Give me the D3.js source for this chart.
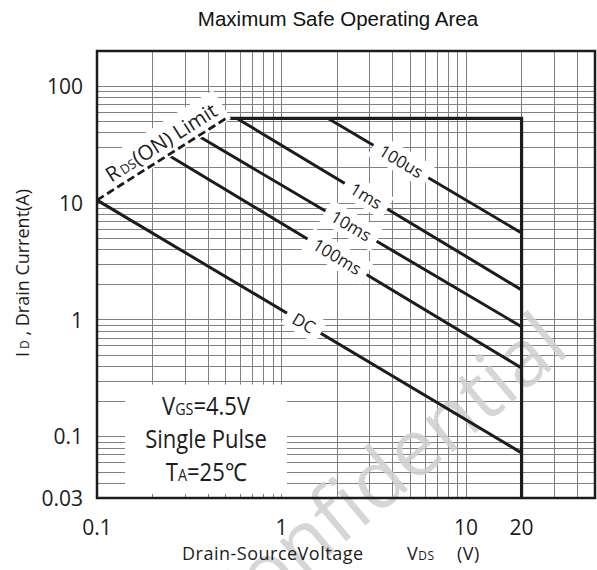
<!DOCTYPE html>
<html>
<head>
<meta charset="utf-8">
<script src="https://cdn.jsdelivr.net/npm/d3@7"></script>
<style>
  body { margin: 0; background: #fff; }
  svg { display: block; font-family: "Open Sans", sans-serif; }
</style>
</head>
<body>
<svg id="chart" width="597" height="570"></svg>
<script>
// tick labels
const xTickLabels = [0.1, 1, 10, 20];
const yTickLabels = [0.03, 0.1, 1, 10, 100];

// SOA boundary (V, A)
const limitLine = [[0.5, 53], [20, 53], [20, 0.03]];
const rdsLine = [[0.1, 10.6], [0.5, 53]];

// pulse curves, start / end points
const pulseNames = ["100us", "1ms", "10ms", "100ms", "DC"];
const pulseStart = [[1.79, 53], [0.574, 53], [0.362, 36.7], [0.243, 25.8], [0.1, 10.6]];
const pulseEnd = [[20, 5.55], [20, 1.81], [20, 0.876], [20, 0.388], [20, 0.073]];
const pulseLabelV = [4.44, 2.87, 2.38, 2.0, 1.32];

const width = 597, height = 570;
const margin = {top: 51, right: 2, bottom: 72, left: 97};

const x = d3.scaleLog().domain([0.1, 50]).range([margin.left, width - margin.right]);
const y = d3.scaleLog().domain([0.03, 200]).range([height - margin.bottom, margin.top]);

const svg = d3.select("#chart");
const ink = "#1c1c1c";

// grid
svg.append("g")
    .attr("stroke", "#808080")
    .attr("shape-rendering", "crispEdges")
    .call(g => g.selectAll(".vx").data(x.ticks()).join("line")
      .attr("x1", d => x(d)).attr("x2", d => x(d))
      .attr("y1", margin.top).attr("y2", height - margin.bottom))
    .call(g => g.selectAll(".hy").data(y.ticks()).join("line")
      .attr("x1", margin.left).attr("x2", width - margin.right)
      .attr("y1", d => y(d)).attr("y2", d => y(d)));

// watermark, runs off the bottom edge like the original
svg.append("text")
    .attr("transform", "translate(572,352) rotate(-40)")
    .attr("text-anchor", "end")
    .attr("font-size", 80)
    .attr("fill", "#d0d0d0")
    .attr("opacity", 0.85)
    .text("Confidential");

// conditions box
const box = svg.append("g");
box.append("rect")
    .attr("x", x(0.142)).attr("y", y(0.28))
    .attr("width", x(1.07) - x(0.142)).attr("height", y(0.0325) - y(0.28))
    .attr("fill", "#fff");
const boxCx = (x(0.142) + x(1.07)) / 2;
const boxLines = [
  [["V", 1], ["GS", 0.65], ["=4.5V", 1]],
  [["Single Pulse", 1]],
  [["T", 1], ["A", 0.65], ["=25℃", 1]]
];
boxLines.forEach((parts, i) => {
  const t = box.append("text")
      .attr("transform", `translate(${boxCx},${y(0.28) + 30.5 + i * 32.7}) scale(0.88,1)`)
      .attr("text-anchor", "middle")
      .attr("font-size", 25)
      .attr("fill", ink);
  parts.forEach(p => t.append("tspan").attr("font-size", 25 * p[1]).text(p[0]));
});

// pulse lines
const line = d3.line().x(d => x(d[0])).y(d => y(d[1]));
pulseNames.forEach((name, i) => {
  svg.append("path")
      .attr("d", line([pulseStart[i], pulseEnd[i]]))
      .attr("fill", "none").attr("stroke", ink).attr("stroke-width", 3);
});

// limit
svg.append("path")
    .attr("d", line(limitLine))
    .attr("fill", "none").attr("stroke", ink).attr("stroke-width", 3.2);

// pulse labels with white knock-out
pulseNames.forEach((name, i) => {
  const [v0, i0] = pulseStart[i], [v1, i1] = pulseEnd[i];
  const slope = Math.log(i1 / i0) / Math.log(v1 / v0);
  const lv = pulseLabelV[i];
  const li = i0 * Math.pow(lv / v0, slope);
  const ang = Math.atan2(y(i1) - y(i0), x(v1) - x(v0)) * 180 / Math.PI;
  const g = svg.append("g").attr("transform", `translate(${x(lv)},${y(li)}) rotate(${ang})`);
  const t = g.append("text")
      .attr("text-anchor", "middle").attr("dy", "0.35em")
      .attr("font-size", 17).attr("fill", ink)
      .text(name);
  const bb = t.node().getBBox();
  g.insert("rect", "text")
      .attr("x", bb.x - 8).attr("y", bb.y - 1)
      .attr("width", bb.width + 16).attr("height", bb.height + 2)
      .attr("fill", "#fff");
});

// RDS(ON) limit label
{
  const [v0, i0] = rdsLine[0], [v1, i1] = rdsLine[1];
  const ang = Math.atan2(y(i1) - y(i0), x(v1) - x(v0)) * 180 / Math.PI;
  const lv = 0.245;
  const li = i0 * Math.pow(lv / v0, Math.log(i1 / i0) / Math.log(v1 / v0));
  const g = svg.append("g").attr("transform", `translate(${x(lv)},${y(li)}) rotate(${ang})`);
  const t = g.append("text")
      .attr("text-anchor", "middle").attr("y", -7)
      .attr("font-size", 20.5).attr("fill", ink);
  t.append("tspan").text("R");
  t.append("tspan").attr("font-size", 13).attr("dx", 2).text("DS");
  t.append("tspan").text("(ON) Limit");
  const bb = t.node().getBBox();
  g.insert("rect", "text")
      .attr("x", bb.x - 8).attr("y", bb.y - 2)
      .attr("width", bb.width + 16).attr("height", bb.height + 6)
      .attr("fill", "#fff");
}

svg.append("path")
    .attr("d", line(rdsLine))
    .attr("fill", "none").attr("stroke", ink).attr("stroke-width", 2.8)
    .attr("stroke-dasharray", "8,4");

// frame
svg.append("rect")
    .attr("x", margin.left).attr("y", margin.top)
    .attr("width", width - margin.left - margin.right)
    .attr("height", height - margin.top - margin.bottom)
    .attr("fill", "none").attr("stroke", ink).attr("stroke-width", 2.5);

// tick labels
svg.append("g")
    .attr("font-size", 21).attr("fill", ink).attr("text-anchor", "end")
  .selectAll("text").data(yTickLabels).join("text")
    .attr("x", margin.left - 14).attr("y", d => y(d)).attr("dy", "0.36em")
    .text(d => d);

svg.append("g")
    .attr("font-size", 21).attr("fill", ink).attr("text-anchor", "middle")
  .selectAll("text").data(xTickLabels).join("text")
    .attr("x", d => x(d)).attr("y", height - margin.bottom + 37)
    .text(d => d);

// axis titles
const xt = svg.append("text")
    .attr("y", 560).attr("font-size", 18).attr("fill", ink)
    .attr("letter-spacing", 0.5);
xt.append("tspan").attr("x", 182).text("Drain-SourceVoltage");
xt.append("tspan").attr("x", 407).text("V");
xt.append("tspan").attr("font-size", 12).text("DS");
xt.append("tspan").attr("x", 457).text("(V)");

const yt = svg.append("text")
    .attr("transform", "translate(29,273) rotate(-90)")
    .attr("text-anchor", "middle").attr("font-size", 18).attr("fill", ink);
yt.append("tspan").text("I");
yt.append("tspan").attr("font-size", 12).attr("dx", 3).text("D");
yt.append("tspan").text(" , Drain Current(A)");

svg.append("text")
    .attr("x", 338).attr("y", 26)
    .attr("text-anchor", "middle")
    .attr("font-family", "'Liberation Sans', Arial, sans-serif")
    .attr("font-size", 20.5).attr("fill", "#111")
    .text("Maximum Safe Operating Area");
</script>
</body>
</html>
